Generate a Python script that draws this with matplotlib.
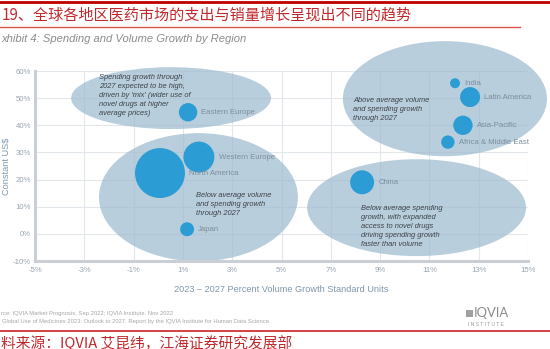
import matplotlib
matplotlib.use('Agg')
import matplotlib.pyplot as plt
from matplotlib.patches import Ellipse, Rectangle
from matplotlib.lines import Line2D

plt.rcParams['font.family'] = ['Liberation Sans', 'DejaVu Sans']
CJK = ['Noto Sans CJK SC', 'DejaVu Sans']

# regions: 2023-2027 volume growth (x) vs spending growth (y), bubble = relative market size
regions = ['North America', 'Western Europe', 'Eastern Europe', 'Japan', 'China',
           'India', 'Latin America', 'Asia-Pacific', 'Africa & Middle East']
volume_growth = [0.07, 1.65, 1.21, 1.17, 8.27, 12.04, 12.65, 12.36, 11.75]
spending_growth = [22.4, 28.3, 44.8, 1.7, 19.0, 55.5, 50.4, 40.0, 33.8]
market_size = [625, 240, 85, 49, 144, 25, 100, 94, 45]

# shaded zones (centre x, centre y, width, height) in axis units + their notes
zone_boxes = [(0.52, 50.0, 8.11, 22.8), (1.63, 13.5, 8.07, 47.2),
              (11.63, 49.8, 8.28, 42.4), (10.48, 9.65, 8.88, 35.7)]
zone_notes = [
    "Spending growth through\n2027 expected to be high,\ndriven by 'mix' (wider use of\nnovel drugs at higher\naverage prices)",
    "Below average volume\nand spending growth\nthrough 2027",
    "Above average volume\nand spending growth\nthrough 2027",
    "Below average spending\ngrowth, with expanded\naccess to novel drugs\ndriving spending growth\nfaster than volume",
]
note_anchor = [(-2.40, 59.0), (1.53, 15.6), (7.90, 50.4), (8.23, 10.6)]

x_ticks = [-5, -3, -1, 1, 3, 5, 7, 9, 11, 13, 15]
y_ticks = [-10, 0, 10, 20, 30, 40, 50, 60]

W, H = 550, 349
fig = plt.figure(figsize=(5.5, 3.49), dpi=100)


def fx(px):
    return px / W


def fy(py):
    return 1 - py / H


ax = fig.add_axes([fx(35), fy(261), 493 / W, 190 / H])

for (cx, cy, w, h) in zone_boxes:
    ax.add_patch(Ellipse((cx, cy), w, h, facecolor='#9ebbd0', alpha=0.72,
                         edgecolor='none', clip_on=False, zorder=1))

for txt, (tx, ty) in zip(zone_notes, note_anchor):
    ax.text(tx, ty, txt, fontsize=5.4, style='italic', color='#3d4349',
            va='top', ha='left', linespacing=1.42, zorder=4)

sizes = [m * 2.07 for m in market_size]
ax.scatter(volume_growth, spending_growth, s=sizes, color='#2b9dd4',
           edgecolors='none', zorder=3, clip_on=False)

for name, x, y, s in zip(regions, volume_growth, spending_growth, sizes):
    r = s ** 0.5 / 2
    ax.annotate(name, (x, y), xytext=(r + 3, -0.5), textcoords='offset points',
                fontsize=5.6, color='#7b8d9c', va='center', ha='left', zorder=4)

ax.set_xlim(-5, 15)
ax.set_ylim(-10, 60)
ax.set_xticks(x_ticks)
ax.set_yticks(y_ticks)
ax.set_xticklabels([f'{v}%' for v in x_ticks])
ax.set_yticklabels([f'{v}%' for v in y_ticks])
ax.tick_params(length=0, labelsize=5.6, colors='#98a4b0')
ax.tick_params(axis='x', pad=4.5)
ax.tick_params(axis='y', pad=3)
ax.grid(True, color='#e2e7eb', lw=0.8)
ax.set_axisbelow(True)
for side in ('top', 'right'):
    ax.spines[side].set_visible(False)
for side in ('left', 'bottom'):
    ax.spines[side].set_color('#c9cfd4')
    ax.spines[side].set_linewidth(2.2)

ax.set_xlabel('2023 – 2027 Percent Volume Growth Standard Units', fontsize=6.6,
              color='#7f98ad')
ax.xaxis.set_label_coords(0.5, -0.126)
ax.set_ylabel('Constant US$', fontsize=6.6, color='#7f98ad', va='center')
ax.yaxis.set_label_coords(-0.057, 0.5)

# header
fig.add_artist(Line2D([0, 1], [fy(2), fy(2)], color='#c00000', lw=2))
fig.text(fx(2), fy(15), '19、全球各地区医药市场的支出与销量增长呈现出不同的趋势',
         family=CJK, fontsize=10.9, color='#c0282d', va='center', ha='left')
fig.add_artist(Line2D([0, fx(520)], [fy(27), fy(27)], color='#d9534f', lw=1))
fig.text(fx(1), fy(39), 'xhibit 4: Spending and Volume Growth by Region',
         fontsize=8.1, style='italic', color='#8c8c8c', va='center', ha='left')

# footer
fig.text(fx(1), fy(313), 'rce: IQVIA Market Prognosis, Sep 2022; IQVIA Institute, Nov 2022',
         fontsize=4.2, color='#a6a6a6', va='center', ha='left')
fig.text(fx(2), fy(321), 'Global Use of Medicines 2023: Outlook to 2027. Report by the IQVIA Institute for Human Data Science.',
         fontsize=4.2, color='#a6a6a6', va='center', ha='left')
fig.add_artist(Rectangle((fx(466), fy(317)), 7 / W, 7 / H, transform=fig.transFigure,
                         facecolor='#a0a0a0', edgecolor='none'))
fig.text(fx(474), fy(313), 'IQVIA', fontsize=9.4, color='#8a8a8a', va='center',
         ha='left', family=['Lato', 'DejaVu Sans'])
fig.text(fx(468), fy(324.5), 'I N S T I T U T E', fontsize=3.6, color='#9a9a9a',
         va='center', ha='left')
fig.add_artist(Line2D([0, 1], [fy(331), fy(331)], color='#d02020', lw=1.2))
fig.text(fx(1), fy(343), '料来源：IQVIA 艾昆纬，江海证券研究发展部',
         family=CJK, fontsize=10.6, color='#c0282d', va='center', ha='left')

fig.savefig('out.png', dpi=100)
